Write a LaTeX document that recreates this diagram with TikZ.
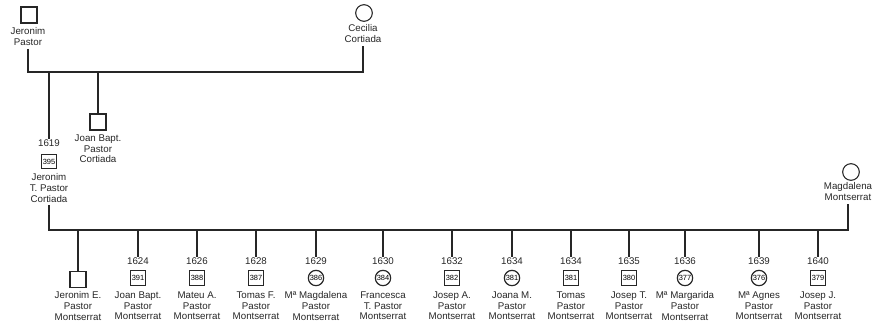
\documentclass[tikz,border=0pt]{standalone}
\usepackage{fontspec}
\setmainfont{Liberation Sans}
\begin{document}
\begin{tikzpicture}[x=0.75pt,y=-0.75pt,
  line/.style={draw=black!85,line width=0.85pt},
  male/.style={draw=black!85,line width=0.8pt,rectangle,minimum size=12pt,inner sep=0pt},
  female/.style={draw=black!85,line width=0.8pt,circle,minimum size=12.5pt,inner sep=0pt},
  nmale/.style={draw=black!85,line width=0.9pt,rectangle,minimum size=11pt,inner sep=0pt,font=\fontsize{5.6}{5.6}\selectfont},
  nfemale/.style={draw=black!85,line width=0.9pt,circle,minimum size=11.5pt,inner sep=0pt,font=\fontsize{5.6}{5.6}\selectfont},
  lbl/.style={align=center,inner sep=0pt,text=black!85,font=\fontsize{7.3}{7.9}\selectfont},
  yr/.style={inner sep=0.5pt,text=black!85,font=\fontsize{7.3}{7.9}\selectfont}]
\useasboundingbox (0,0) rectangle (875,329);
\coordinate (busA) at (0,72);
\coordinate (busB) at (0,230);

% first generation
\node[male] (jp) at (29,15) {};
\node[lbl] (jpn) at (28,36.5) {Jeronim\\Pastor};
\node[female] (cc) at (364,13) {};
\node[lbl] (ccn) at (363,33.5) {Cecilia\\Cortiada};
\draw[line] ([yshift=-2.5pt]jpn.south) -- (jpn.south |- busA) -- (ccn.south |- busA) -- ([yshift=-2.5pt]ccn.south);

% second generation
\node[yr] (y1619) at (49,143) {1619};
\node[nmale] (s395) at (49,161.5) {395};
\node[lbl] (jtn) at (49,188) {Jeronim\\T. Pastor\\Cortiada};
\draw[line] (y1619.north |- busA) -- (y1619.north);

\node[male] (jb) at (98,122) {};
\node[lbl] (jbn) at (98,149) {Joan Bapt.\\Pastor\\Cortiada};
\draw[line] (jb.north |- busA) -- (jb.north);

\node[female] (mm) at (851,172) {};
\node[lbl] (mmn) at (848,191.5) {Magdalena\\Montserrat};
\draw[line] ([yshift=-2pt]jtn.south) -- (jtn.south |- busB) -- (mmn.south |- busB) -- ([yshift=-2.5pt]mmn.south);

% third generation
\node[male] (c1) at (78,279.5) {};
\node[lbl] (c1n) at (78,306) {Jeronim E.\\Pastor\\Montserrat};
\draw[line] (c1.north |- busB) -- (c1.north);

\foreach \nm/\x/\yy/\sty/\num/\txt in {
  c2/138/1624/nmale/391/{Joan Bapt.\\Pastor\\Montserrat},
  c3/197/1626/nmale/388/{Mateu A.\\Pastor\\Montserrat},
  c4/256/1628/nmale/387/{Tomas F.\\Pastor\\Montserrat},
  c5/316/1629/nfemale/386/{Mª Magdalena\\Pastor\\Montserrat},
  c6/383/1630/nfemale/384/{Francesca\\T. Pastor\\Montserrat},
  c7/452/1632/nmale/382/{Josep A.\\Pastor\\Montserrat},
  c8/512/1634/nfemale/381/{Joana M.\\Pastor\\Montserrat},
  c9/571/1634/nmale/381/{Tomas\\Pastor\\Montserrat},
  c10/629/1635/nmale/380/{Josep T.\\Pastor\\Montserrat},
  c11/685/1636/nfemale/377/{Mª Margarida\\Pastor\\Montserrat},
  c12/759/1639/nfemale/376/{Mª Agnes\\Pastor\\Montserrat},
  c13/818/1640/nmale/379/{Josep J.\\Pastor\\Montserrat}}{
  \node[yr] (\nm y) at (\x,261) {\yy};
  \node[\sty] (\nm) at (\x,278) {\num};
  \node[lbl] (\nm n) at (\x,306) {\txt};
  \draw[line] (\nm y.north |- busB) -- (\nm y.north);
}
\end{tikzpicture}
\end{document}
